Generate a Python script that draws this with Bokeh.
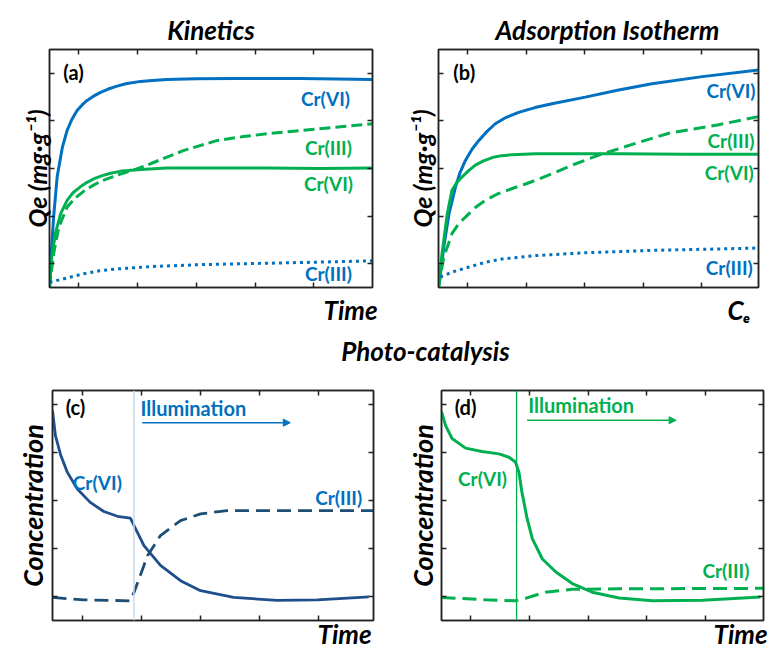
from math import pi
from bokeh.plotting import figure
from bokeh.models import Range1d, FixedTicker, LinearAxis, Label, Span, Arrow, NormalHead, Title
from bokeh.layouts import column, row
from bokeh.embed import file_html
from bokeh.resources import INLINE

BLUE = "#0070c0"
GREEN = "#00b050"
NAVY = "#1f4e8c"
NAVY_D = "#1d4e74"
FONT = "Lato"

TICKS = [0.5, 1.5, 2.5, 3.5, 4.5]

# ---- Panel (a) Kinetics ----
a_vi_x = [0, 0.03, 0.07, 0.13, 0.22, 0.30, 0.38, 0.47, 0.56, 0.64, 0.75, 0.87, 1.0, 1.15, 1.3, 1.55, 1.75, 2.0, 2.5, 3.14, 4.27, 5.5]
a_vi_y = [0, 0.70, 1.48, 2.32, 2.95, 3.30, 3.53, 3.72, 3.84, 3.93, 4.02, 4.10, 4.17, 4.23, 4.28, 4.33, 4.35, 4.37, 4.385, 4.39, 4.39, 4.37]
a_vi_g_x = [0, 0.04, 0.1, 0.19, 0.3, 0.4, 0.52, 0.64, 0.75, 0.9, 1.04, 1.2, 1.44, 1.7, 2.0, 3.0, 3.71, 4.6, 5.5]
a_vi_g_y = [0, 0.65, 1.13, 1.55, 1.83, 1.99, 2.11, 2.21, 2.28, 2.35, 2.40, 2.44, 2.47, 2.49, 2.51, 2.51, 2.51, 2.50, 2.51]
a_iii_g_x = [0, 0.07, 0.16, 0.3, 0.44, 0.58, 0.72, 0.87, 1.15, 1.44, 1.72, 2.0, 2.29, 2.86, 3.3, 3.71, 4.56, 5.5]
a_iii_g_y = [0, 0.71, 1.27, 1.69, 1.88, 2.02, 2.13, 2.23, 2.36, 2.47, 2.60, 2.74, 2.88, 3.09, 3.17, 3.23, 3.33, 3.44]
a_iii_b_x = [0, 0.3, 0.58, 0.85, 1.15, 1.72, 2.57, 3.71, 4.85, 5.5]
a_iii_b_y = [0.11, 0.2, 0.29, 0.35, 0.39, 0.44, 0.48, 0.51, 0.54, 0.56]

# ---- Panel (b) Adsorption isotherm ----
b_vi_x = [0, 0.05, 0.09, 0.18, 0.29, 0.37, 0.46, 0.57, 0.69, 0.83, 0.97, 1.15, 1.37, 1.65, 1.94, 2.51, 3.08, 3.65, 4.51, 5.47]
b_vi_y = [0, 0.45, 0.85, 1.55, 2.11, 2.42, 2.67, 2.90, 3.09, 3.28, 3.44, 3.57, 3.68, 3.78, 3.86, 4.00, 4.15, 4.28, 4.43, 4.57]
b_vi_g_x = [0, 0.06, 0.15, 0.23, 0.31, 0.40, 0.52, 0.63, 0.77, 0.92, 1.08, 1.26, 1.66, 2.2, 3.08, 4.2, 5.47]
b_vi_g_y = [0, 0.71, 1.55, 2.04, 2.20, 2.32, 2.46, 2.57, 2.66, 2.73, 2.77, 2.79, 2.81, 2.81, 2.81, 2.80, 2.80]
b_iii_g_x = [0, 0.09, 0.23, 0.34, 0.46, 0.63, 0.80, 1.0, 1.26, 1.5, 1.72, 2.0, 2.28, 2.74, 3.37, 3.94, 4.79, 5.47]
b_iii_g_y = [0, 0.64, 1.13, 1.33, 1.48, 1.68, 1.83, 1.96, 2.08, 2.18, 2.28, 2.42, 2.57, 2.78, 3.03, 3.24, 3.42, 3.59]
b_iii_b_x = [0.03, 0.25, 0.52, 0.8, 1.09, 1.66, 2.51, 3.65, 4.79, 5.47]
b_iii_b_y = [0.22, 0.33, 0.43, 0.53, 0.60, 0.67, 0.73, 0.78, 0.81, 0.83]

# ---- Panel (c) Photo-catalysis (blue) ----
c_vi_x = [0, 0.05, 0.14, 0.25, 0.42, 0.64, 0.87, 1.1, 1.32, 1.38, 1.55, 1.83, 2.17, 2.51, 3.07, 3.81, 4.49, 5.36]
c_vi_y = [4.375, 3.85, 3.44, 3.09, 2.74, 2.46, 2.27, 2.17, 2.13, 1.98, 1.56, 1.15, 0.83, 0.62, 0.48, 0.42, 0.43, 0.49]
c_iii_x = [0, 0.53, 1.32, 1.38, 1.61, 1.83, 2.17, 2.51, 2.96, 3.64, 5.44]
c_iii_y = [0.48, 0.43, 0.41, 0.58, 1.35, 1.77, 2.08, 2.22, 2.29, 2.29, 2.29]
c_illum = 1.38

# ---- Panel (d) Photo-catalysis (green) ----
d_vi_x = [0, 0.07, 0.18, 0.41, 0.69, 0.98, 1.15, 1.26, 1.32, 1.37, 1.46, 1.55, 1.72, 1.95, 2.23, 2.57, 3.03, 3.6, 4.45, 5.44]
d_vi_y = [4.35, 4.06, 3.79, 3.59, 3.52, 3.47, 3.40, 3.30, 3.09, 2.68, 2.12, 1.70, 1.28, 1.01, 0.77, 0.59, 0.47, 0.41, 0.42, 0.49]
d_iii_x = [0, 0.75, 1.26, 1.43, 1.77, 2.23, 3.03, 5.5]
d_iii_y = [0.48, 0.43, 0.41, 0.46, 0.59, 0.65, 0.66, 0.67]
d_illum = 1.28


def make_panel(w, h, bl, br, bt, bb, xmax, ymax):
    p = figure(width=w, height=h, x_range=Range1d(0, xmax), y_range=Range1d(0, ymax),
               toolbar_location=None, output_backend="svg",
               min_border_left=bl, min_border_right=br, min_border_top=bt, min_border_bottom=bb)
    p.add_layout(LinearAxis(), "right")
    p.add_layout(LinearAxis(), "above")
    for ax in p.xaxis:
        ax.ticker = FixedTicker(ticks=TICKS)
    for ax in p.yaxis:
        ax.ticker = FixedTicker(ticks=TICKS)
    for ax in p.axis:
        ax.major_tick_in = 5
        ax.major_tick_out = 0
        ax.minor_tick_line_color = None
        ax.major_label_overrides = {t: "" for t in TICKS}
        ax.major_label_text_font_size = "0px"
        ax.major_label_standoff = 0
        ax.axis_line_color = "#222222"
        ax.axis_line_width = 1.5
        ax.major_tick_line_color = "#222222"
        ax.major_tick_line_width = 1.5
    p.xgrid.visible = False
    p.ygrid.visible = False
    p.outline_line_color = "#222222"
    p.outline_line_width = 1.5
    p.background_fill_color = "white"
    p.border_fill_color = "white"
    return p


def title(p, text, side, size, align="center", offset=0, standoff=0):
    p.add_layout(Title(text=text, align=align, offset=offset, standoff=standoff,
                       text_font=FONT, text_font_size=size, text_font_style="bold italic",
                       text_color="black"), side)


def lab(p, x, y, text, color, size, style="bold", align="center", baseline="middle"):
    p.add_layout(Label(x=x, y=y, text=text, text_color=color, text_font=FONT,
                       text_font_size=size, text_font_style=style, text_align=align,
                       text_baseline=baseline))


CR = "19px"
PANEL = "20px"

# Panel a
pa = make_panel(385, 330, 49, 13, 49, 43, 5.5, 5.0)
pa.line(a_vi_x, a_vi_y, line_color=BLUE, line_width=3)
pa.line(a_vi_g_x, a_vi_g_y, line_color=GREEN, line_width=3)
pa.line(a_iii_g_x, a_iii_g_y, line_color=GREEN, line_width=3, line_dash="11 5")
pa.line(a_iii_b_x, a_iii_b_y, line_color=BLUE, line_width=3, line_dash="3 4")
title(pa, "Kinetics", "above", "26px", standoff=7)
title(pa, "Qe (mg·g⁻¹)", "left", "25px", standoff=-5)
title(pa, "Time", "below", "26px", align="left", offset=274, standoff=8)
lab(pa, 0.41, 4.52, "(a)", "black", PANEL)
lab(pa, 4.70, 3.97, "Cr(VI)", BLUE, CR)
lab(pa, 4.75, 2.94, "Cr(III)", GREEN, CR)
lab(pa, 4.75, 2.18, "Cr(VI)", GREEN, CR)
lab(pa, 4.75, 0.29, "Cr(III)", BLUE, CR)

# Panel b
pb = make_panel(386, 330, 53, 13, 49, 43, 5.47, 5.0)
pb.line(b_vi_x, b_vi_y, line_color=BLUE, line_width=3)
pb.line(b_vi_g_x, b_vi_g_y, line_color=GREEN, line_width=3)
pb.line(b_iii_g_x, b_iii_g_y, line_color=GREEN, line_width=3, line_dash="12 6")
pb.line(b_iii_b_x, b_iii_b_y, line_color=BLUE, line_width=3, line_dash="3 4")
title(pb, "Adsorption Isotherm", "above", "26px", align="left", offset=57, standoff=7)
title(pb, "Qe (mg·g⁻¹)", "left", "25px", standoff=4)
title(pb, "Cₑ", "below", "26px", align="left", offset=289, standoff=8)
lab(pb, 0.44, 4.52, "(b)", "black", PANEL)
lab(pb, 5.0, 4.14, "Cr(VI)", BLUE, CR)
lab(pb, 5.0, 3.09, "Cr(III)", GREEN, CR)
lab(pb, 4.97, 2.42, "Cr(VI)", GREEN, CR)
lab(pb, 4.97, 0.42, "Cr(III)", BLUE, CR)

# Middle title strip
pm = figure(width=771, height=35, x_range=Range1d(0, 771), y_range=Range1d(0, 35),
            toolbar_location=None, output_backend="svg", min_border=0,
            x_axis_type=None, y_axis_type=None)
pm.xgrid.visible = False
pm.ygrid.visible = False
pm.outline_line_color = None
lab(pm, 425, 15, "Photo-catalysis", "black", "26px", "bold italic")

# Panel c
pc = make_panel(385, 285, 52, 12, 25, 30, 5.44, 4.79)
pc.add_layout(Span(location=c_illum, dimension="height", line_color="#c6d9f0", line_width=1.5))
pc.line(c_vi_x, c_vi_y, line_color=NAVY, line_width=2.8)
pc.line(c_iii_x, c_iii_y, line_color=NAVY_D, line_width=2.8, line_dash="14 7")
pc.add_layout(Arrow(end=NormalHead(size=7, fill_color=BLUE, line_color=BLUE),
                    x_start=1.52, y_start=4.12, x_end=4.03, y_end=4.12,
                    line_color=BLUE, line_width=1.5))
lab(pc, 1.49, 4.42, "Illumination", BLUE, "20px", align="left")
title(pc, "Concentration", "left", "27px", standoff=7)
title(pc, "Time", "below", "26px", align="left", offset=265, standoff=-9)
lab(pc, 0.39, 4.44, "(c)", "black", PANEL)
lab(pc, 0.76, 2.88, "Cr(VI)", BLUE, CR)
lab(pc, 4.85, 2.56, "Cr(III)", BLUE, CR)

# Panel d
pd_ = make_panel(386, 285, 56, 8, 25, 30, 5.49, 4.79)
pd_.add_layout(Span(location=d_illum, dimension="height", line_color=GREEN, line_width=1.3))
pd_.line(d_vi_x, d_vi_y, line_color=GREEN, line_width=3)
pd_.line(d_iii_x, d_iii_y, line_color=GREEN, line_width=3, line_dash="14 7")
pd_.add_layout(Arrow(end=NormalHead(size=7, fill_color=GREEN, line_color=GREEN),
                     x_start=1.46, y_start=4.17, x_end=4.0, y_end=4.17,
                     line_color=GREEN, line_width=1.5))
lab(pd_, 1.48, 4.48, "Illumination", GREEN, "20px", align="left")
title(pd_, "Concentration", "left", "27px", standoff=5)
title(pd_, "Time", "below", "26px", align="left", offset=272, standoff=-9)
lab(pd_, 0.41, 4.44, "(d)", "black", PANEL)
lab(pd_, 0.70, 2.96, "Cr(VI)", GREEN, CR)
lab(pd_, 4.85, 1.04, "Cr(III)", GREEN, CR)

layout = column(row(pa, pb), pm, row(pc, pd_))

with open("out.html", "w") as f:
    f.write(file_html(layout, INLINE))
